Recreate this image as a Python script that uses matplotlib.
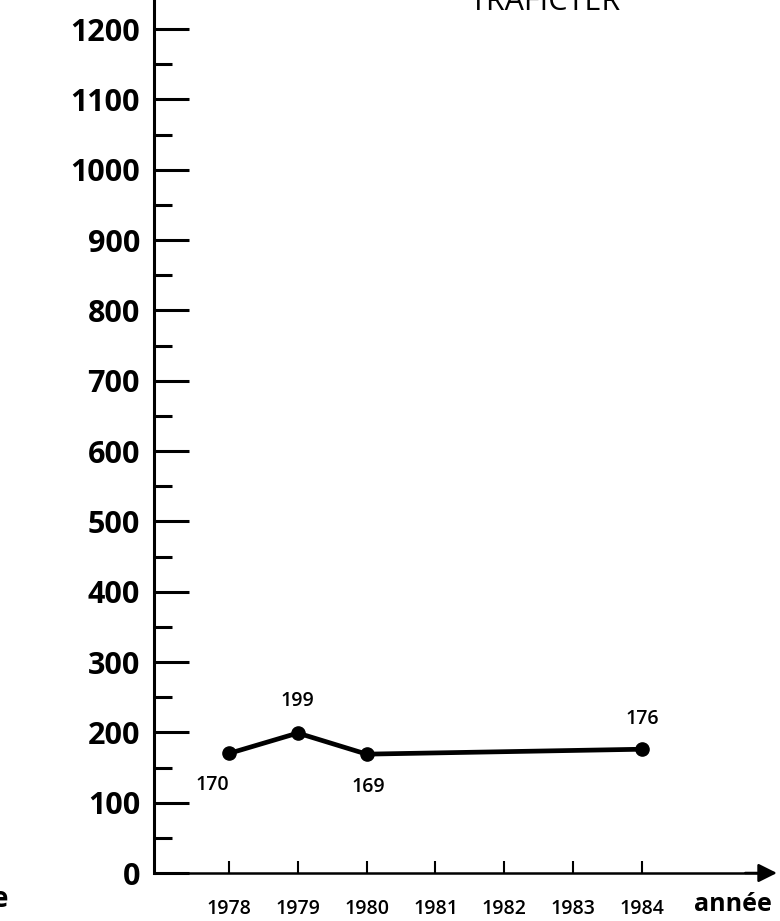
import matplotlib.pyplot as plt
from matplotlib.ticker import FixedLocator

# data
years = [1978, 1979, 1980, 1984]
values = [170, 199, 169, 176]
year_ticks = [1978, 1979, 1980, 1981, 1982, 1983, 1984]
y_ticks = list(range(0, 1300, 100))
y_minor = list(range(50, 1200, 100))
point_labels = ['170', '199', '169', '176']
label_offsets = [(-12, -23), (0, 23), (1.5, -24), (0, 22)]

plt.rcParams['font.family'] = ['Open Sans', 'DejaVu Sans']

fig = plt.figure(figsize=(7.8, 9.21), dpi=100)
ax = fig.add_axes([0, 0, 1, 1])
ax.set_xlim(1974.673, 1986.005)
ax.set_ylim(-68.25, 1241.3)
ax.patch.set_visible(False)

# axes lines
ax.spines['top'].set_visible(False)
ax.spines['right'].set_visible(False)
ax.spines['left'].set_position(('data', 1976.91))
ax.spines['bottom'].set_position(('data', 0))
ax.spines['left'].set_bounds(0, 1241.3)
ax.spines['bottom'].set_bounds(1976.91, 1985.7)
ax.spines['left'].set_linewidth(2.2)
ax.spines['bottom'].set_linewidth(1.8)
ax.annotate('', xy=(1985.96, 0), xytext=(1985.5, 0),
            arrowprops=dict(arrowstyle='-|>', color='black', lw=1.8,
                            mutation_scale=28, shrinkA=0, shrinkB=0))

# y ticks
ax.set_yticks(y_ticks)
ax.set_yticklabels([str(v) for v in y_ticks])
ax.yaxis.set_minor_locator(FixedLocator(y_minor))
ax.tick_params(axis='y', which='major', direction='in', length=25, width=2.2,
               pad=10, labelsize=22)
ax.tick_params(axis='y', which='minor', direction='in', length=13, width=2.2)
for lab in ax.get_yticklabels():
    lab.set_fontweight('bold')

# x ticks
ax.set_xticks(year_ticks)
ax.set_xticklabels([str(y) for y in year_ticks])
ax.tick_params(axis='x', which='major', direction='in', length=9, width=1.5,
               pad=19, labelsize=14)
for lab in ax.get_xticklabels():
    lab.set_fontweight('semibold')

# the series
ax.plot(years, values, color='black', lw=3.4, marker='o', markersize=9.5,
        solid_joinstyle='round', clip_on=False)
for x, v, txt, off in zip(years, values, point_labels, label_offsets):
    ax.annotate(txt, xy=(x, v), xytext=off, textcoords='offset points',
                ha='center', va='center', fontsize=14, fontweight='semibold')

# texts
ax.text(1985.32, -45, 'année', fontsize=18, fontweight='bold',
        ha='center', va='center')
ax.text(1974.79, -38, 'e', fontsize=20, fontweight='bold',
        ha='right', va='center')
ax.text(1982.59, 1227, 'TRAFICTER', fontsize=22, ha='center', va='baseline')

fig.savefig('out.png', dpi=100)
